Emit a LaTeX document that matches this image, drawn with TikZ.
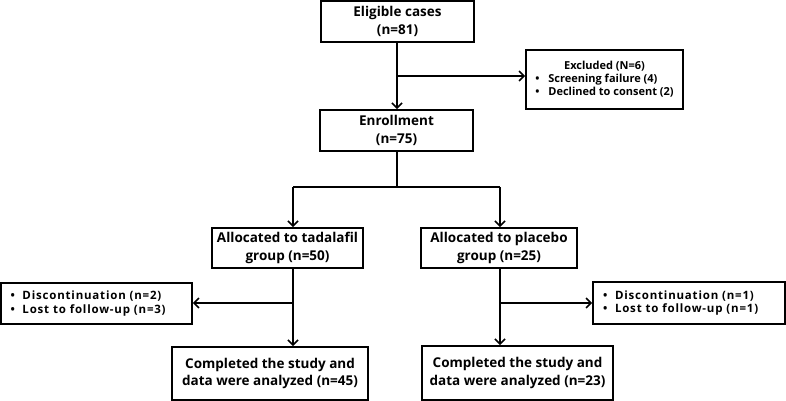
\documentclass[tikz,border=0pt]{standalone}
\usepackage{fontspec}
\setmainfont{Open Sans}
\newfontfamily\spacedfont[LetterSpace=7]{Open Sans}
\usetikzlibrary{arrows.meta}
\begin{document}
\begin{tikzpicture}[x=1pt,y=-1pt,
  box/.style={draw=black,line width=1.8pt,minimum width=#1,inner sep=0pt,align=center,font=\bfseries\fontsize{13.5}{17.5}\selectfont},
  sbox/.style={draw=black,line width=1.6pt,minimum width=#1,inner sep=0pt,align=left,font=\spacedfont\bfseries\fontsize{11.5}{13.5}\selectfont},
  ebox/.style={draw=black,line width=1.6pt,minimum width=#1,inner sep=0pt,align=left,font=\bfseries\fontsize{11}{13}\selectfont},
  conn/.style={line width=1.6pt},
  arr/.style={conn,-{Straight Barb[length=5pt,width=10pt,line width=1.6pt]}}]
\useasboundingbox (0,0) rectangle (786,401);
\node[box=153pt,minimum height=41pt] (elig) at (397.5,21.5) {Eligible cases\\(n=81)};
\node[box=153pt,minimum height=41pt] (enr) at (396.5,130.5) {Enrollment\\(n=75)};
\node[ebox=157pt,minimum height=59pt] (excl) at (604.5,79.5) {\begin{tabular}{@{}l@{}}\multicolumn{1}{c}{Excluded (N=6)}\\\makebox[13pt][l]{•}Screening failure (4)\\\makebox[13pt][l]{•}Declined to consent (2)\end{tabular}};
\node[box=151pt,minimum height=40pt] (tada) at (287.5,248) {Allocated to tadalafil\\group (n=50)};
\node[box=156pt,minimum height=40pt] (plac) at (499,248) {Allocated to placebo\\group (n=25)};
\node[sbox=191pt,minimum height=41pt,text width=172pt] (lexc) at (96.5,303.5) {\makebox[12pt][l]{•}Discontinuation (n=2)\\\makebox[12pt][l]{•}Lost to follow-up (n=3)};
\node[sbox=192pt,minimum height=42pt,text width=172pt] (rexc) at (689,303) {\makebox[12pt][l]{•}Discontinuation (n=1)\\\makebox[12pt][l]{•}Lost to follow-up (n=1)};
\node[box=196pt,minimum height=53pt] (c45) at (270,373.5) {Completed the study and\\data were analyzed (n=45)};
\node[box=191pt,minimum height=54pt] (c23) at (517.5,373) {Completed the study and\\data were analyzed (n=23)};
\coordinate (b1) at (397,76);
\coordinate (b2) at (397,187);
\coordinate (bl) at (293,187);
\coordinate (br) at (500,187);
\coordinate (t1) at (293,303);
\coordinate (p1) at (500,303);
\draw[arr] (elig.south -| b1) -- (enr.north -| b1);
\draw[arr] (b1) -- (excl.west |- b1);
\draw[conn] (enr.south -| b2) -- (b2);
\draw[conn] (bl) -- (br);
\draw[arr] (bl) -- (tada.north -| bl);
\draw[arr] (br) -- (plac.north -| br);
\draw[arr] (tada.south -| t1) -- (c45.north -| t1);
\draw[arr] (t1) -- (lexc.east |- t1);
\draw[arr] (plac.south -| p1) -- (c23.north -| p1);
\draw[arr] (p1) -- (rexc.west |- p1);
\end{tikzpicture}
\end{document}
